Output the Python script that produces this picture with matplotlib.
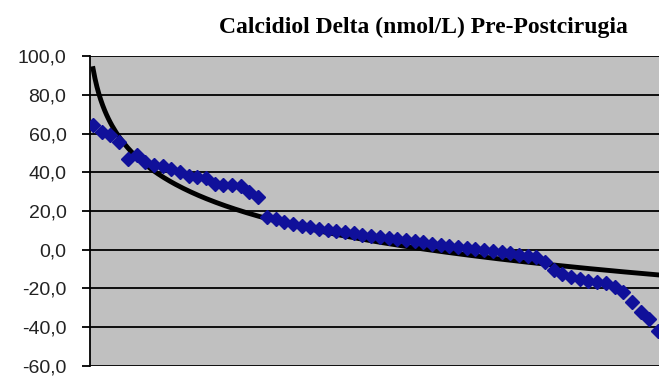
import numpy as np
import matplotlib.pyplot as plt
from matplotlib.ticker import FuncFormatter, MultipleLocator

# delta of calcidiol (nmol/L) per patient, in plotted order
delta = [
    64.5, 61, 59, 55.5, 47, 49, 45.5, 44, 43, 41.5,
    40, 38, 37.5, 37, 34, 33.5, 33.5, 33, 30, 27,
    17, 16, 14.5, 13.5, 12.5, 11.5, 10.5, 10, 9.5, 9,
    8.5, 7.5, 7, 6.5, 6, 5.5, 5, 4.5, 4, 3,
    2.5, 2, 1.5, 1, 0.5, 0, -0.5, -1, -1.5, -2.5,
    -3, -4, -6.5, -10.5, -12.5, -14, -15, -16, -16.5, -17,
    -19, -22, -27, -32, -36, -42,
]
y_ticks = [-60, -40, -20, 0, 20, 40, 60, 80, 100]
title = "Calcidiol Delta (nmol/L) Pre-Postcirugia"

n = np.arange(1, len(delta) + 1)

# logarithmic trend line, y = a*ln(x) + b
a, b = np.polyfit(np.log(n), delta, 1)
xt = np.linspace(1, len(delta) + 1, 300)
yt = a * np.log(xt) + b

fig = plt.figure(figsize=(6.59, 3.81), dpi=100)
ax = fig.add_axes([0.1366, 0.0394, 0.875, 0.8136])
ax.set_facecolor("#c0c0c0")

ax.plot(xt, yt, color="black", lw=3.5, zorder=2)
ax.plot(n, delta, linestyle="none", marker="D", ms=7.3,
        color="#10109a", mec="#10109a", zorder=3)

ax.set_ylim(y_ticks[0], y_ticks[-1])
ax.set_xlim(0.65, 67.0)
ax.set_yticks(y_ticks)
ax.yaxis.set_major_formatter(FuncFormatter(lambda v, p: f"{v:.1f}".replace(".", ",")))
ax.set_xticks([])
ax.grid(axis="y", color="black", lw=1.3)
ax.set_axisbelow(True)

for s in ["top", "right", "bottom"]:
    ax.spines[s].set_visible(False)
ax.spines["left"].set_color("black")
ax.spines["left"].set_linewidth(1.3)
ax.tick_params(axis="y", direction="out", length=6, width=1.3, pad=11,
               labelsize=14, labelcolor="#222222")
for lab in ax.get_yticklabels():
    lab.set_family("Liberation Sans")

fig.text(0.642, 0.928, title, ha="center", va="center",
         family="Liberation Serif", weight="bold", fontsize=17)

fig.savefig("out.png", dpi=100)
